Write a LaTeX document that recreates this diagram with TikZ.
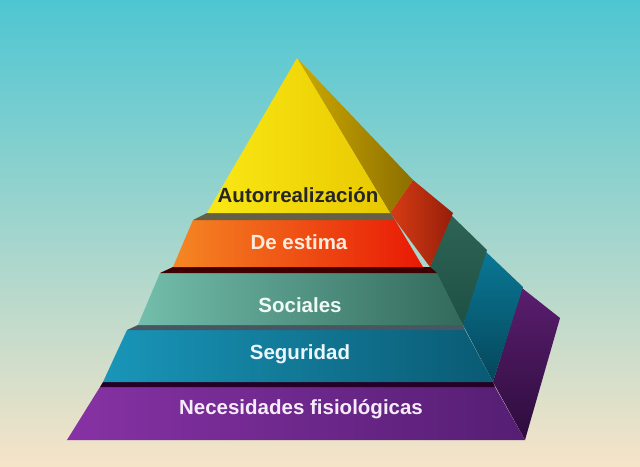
\documentclass[tikz,border=0pt]{standalone}
\usepackage{fontspec}
\setmainfont{Liberation Sans}
\definecolor{tb}{RGB}{255,235,220}
\definecolor{tc}{RGB}{240,250,245}
\definecolor{td}{RGB}{235,245,250}
\definecolor{te}{RGB}{245,235,250}
\begin{document}
\begin{tikzpicture}[x=1pt,y=-1pt,
  lbl/.style={font=\bfseries\fontsize{20.5}{24}\selectfont,text=#1}]
\shade[top color={rgb,255:red,78;green,198;blue,210}, bottom color={rgb,255:red,246;green,228;blue,200}] (0,0) rectangle (640,466);
\useasboundingbox (0,0) rectangle (640,466);
% purple
\shade[top color={rgb,255:red,90;green,30;blue,110},bottom color={rgb,255:red,45;green,12;blue,60}] (493,382) -- (522,288) -- (560,318) -- (525,440) -- cycle;
\shade[left color={rgb,255:red,135;green,50;blue,165},right color={rgb,255:red,85;green,30;blue,115}] (100,387) -- (495,387) -- (525,440) -- (67,440) -- cycle;
\fill[black!70!violet] (103,382) -- (493,382) -- (495,387) -- (100,387) -- cycle;
% blue
\shade[top color={rgb,255:red,10;green,120;blue,150},bottom color={rgb,255:red,5;green,70;blue,90}] (463,325) -- (484,250) -- (523,287) -- (493,382) -- cycle;
\shade[left color={rgb,255:red,25;green,150;blue,185},right color={rgb,255:red,10;green,90;blue,115}] (127,330) -- (465,330) -- (493,382) -- (103,382) -- cycle;
\fill[black!70!cyan] (138,325) -- (463,325) -- (465,330) -- (127,330) -- cycle;
% teal
\shade[top color={rgb,255:red,45;green,100;blue,85},bottom color={rgb,255:red,30;green,80;blue,68}] (430,267) -- (451,215) -- (487,250) -- (463,325) -- cycle;
\shade[left color={rgb,255:red,115;green,190;blue,172},right color={rgb,255:red,50;green,105;blue,90}] (160,273) -- (437,273) -- (463,325) -- (138,325) -- cycle;
\fill[black!75!red] (173,267) -- (430,267) -- (437,273) -- (160,273) -- cycle;
% orange
\shade[left color={rgb,255:red,215;green,60;blue,20},right color={rgb,255:red,150;green,30;blue,10}] (390,213) -- (413,180) -- (453,213) -- (430,267) -- cycle;
\shade[left color={rgb,255:red,245;green,135;blue,35},right color={rgb,255:red,232;green,25;blue,5}] (193,220) -- (395,220) -- (423,267) -- (173,267) -- cycle;
\fill[black!70!yellow] (207,213) -- (390,213) -- (395,220) -- (193,220) -- cycle;
% yellow
\shade[left color={rgb,255:red,205;green,170;blue,0},right color={rgb,255:red,140;green,110;blue,0}] (297,58) -- (413,180) -- (390,213) -- cycle;
\shade[left color={rgb,255:red,250;green,232;blue,20},right color={rgb,255:red,232;green,200;blue,0}] (297,58) -- (390,213) -- (207,213) -- cycle;
% labels
\node[lbl=black!85] (a) at (298,195) {Autorrealización};
\node[lbl=tb] (b) at (299,242) {De estima};
\node[lbl=tc] (c) at (300,305) {Sociales};
\node[lbl=td] (d) at (300,354) {Seguridad};
\node[lbl=te] (e) at (301,409) {Necesidades fisiológicas};
\end{tikzpicture}
\end{document}
